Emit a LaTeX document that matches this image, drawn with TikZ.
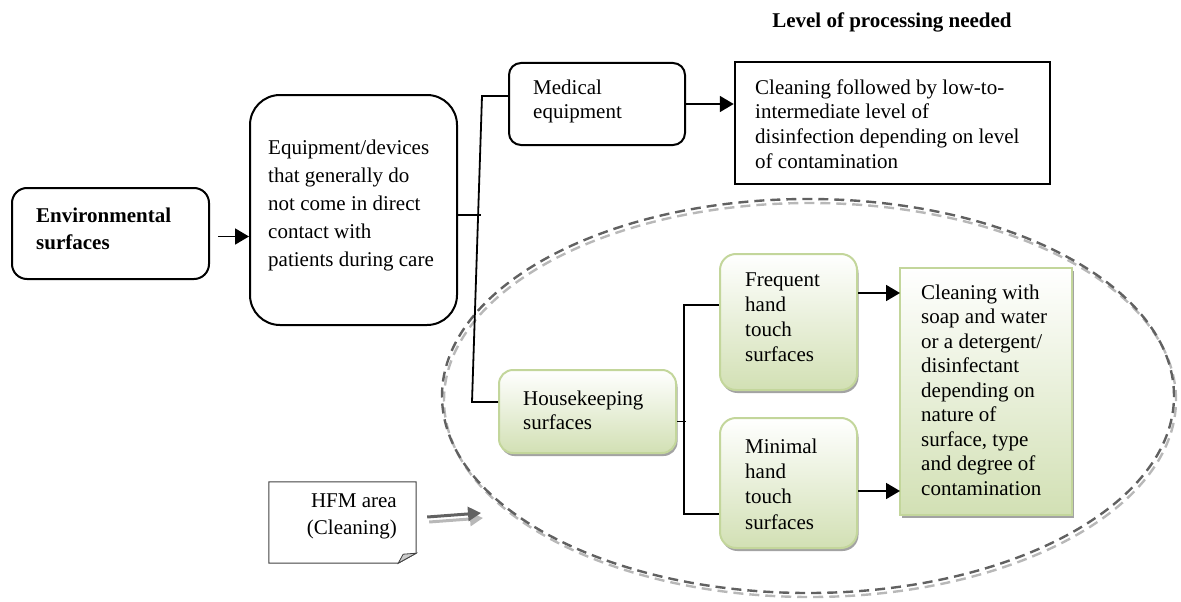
\documentclass[tikz,border=0pt]{standalone}
\usepackage{fontspec}
\setmainfont{Liberation Serif}
\usetikzlibrary{arrows.meta,shadows}
\definecolor{leafedge}{RGB}{195,214,155}
\definecolor{leaffill}{RGB}{210,224,180}
\begin{document}
\begin{tikzpicture}[x=1pt,y=-1pt,
  font=\fontsize{21}{25}\selectfont,
  box/.style={draw, line width=2pt, inner sep=0pt},
  leaf/.style={draw=leafedge, line width=2pt, top color=white, bottom color=leaffill,
    inner sep=0pt, drop shadow={shadow xshift=1.5pt, shadow yshift=-3pt, fill=black!45, opacity=0.8}},
  txt/.style={inner sep=0pt, align=left, anchor=west},
  link/.style={line width=1.8pt},
  arrow/.style={line width=1.8pt, -{Triangle[length=14pt,width=16pt]}},
  ring/.style={line width=2.4pt, dash pattern=on 10pt off 6pt},
  notearrow/.style={line width=3pt, -{Triangle[length=13pt,width=14pt]}},
]
\useasboundingbox (0,0) rectangle (1181,602);

% dashed zone around the housekeeping branch
\draw[ring, black!28] (810,400) ellipse [x radius=366pt, y radius=197pt];
\draw[ring, black!62] (808,396) ellipse [x radius=366pt, y radius=197pt];

% heading
\node[font=\fontsize{21}{25}\selectfont\bfseries] (heading) at (892,22) {Level of processing needed};

% black outlined boxes
\node[box, rounded corners=15pt, minimum width=197pt, minimum height=91pt] (env) at (110.5,233.5) {};
\node[txt, font=\fontsize{21}{27}\selectfont\bfseries] (envtext) at (36,228.5) {Environmental\\surfaces};

\node[box, rounded corners=30pt, minimum width=207pt, minimum height=230pt] (eq) at (353.5,210) {};
\node[txt, font=\fontsize{21}{28}\selectfont] (eqtext) at (268,205.5)
  {Equipment/devices\\that generally do\\not come in direct\\contact with\\patients during care};

\node[box, rounded corners=12pt, minimum width=176pt, minimum height=82pt] (med) at (597,104) {};
\node[txt, font=\fontsize{21}{23.5}\selectfont] (medtext) at (533,101.5) {Medical\\equipment};

\node[box, line width=2.5pt, minimum width=315pt, minimum height=122pt] (clean1) at (892.5,123) {};
\node[txt, font=\fontsize{21}{24.7}\selectfont] (clean1text) at (755,124)
  {Cleaning followed by low-to-\\intermediate level of\\disinfection depending on level\\of contamination};

% green boxes
\node[leaf, rounded corners=14pt, minimum width=177pt, minimum height=83pt] (hk) at (587.5,411.5) {};
\node[txt, font=\fontsize{21}{24}\selectfont] (hktext) at (523,410) {Housekeeping\\surfaces};

\node[leaf, rounded corners=16pt, minimum width=137pt, minimum height=136pt] (freq) at (788.5,322) {};
\node[txt] (freqtext) at (745,317.5) {Frequent\\hand\\touch\\surfaces};

\node[leaf, rounded corners=16pt, minimum width=137pt, minimum height=130pt] (minimal) at (788.5,483) {};
\node[txt, font=\fontsize{21}{25.3}\selectfont] (mintext) at (745,484) {Minimal\\hand\\touch\\surfaces};

\node[leaf, minimum width=172pt, minimum height=247pt] (clean2) at (986,391.5) {};
\node[txt, font=\fontsize{21}{24.5}\selectfont] (clean2text) at (921,390)
  {Cleaning with\\soap and water\\or a detergent/\\disinfectant\\depending on\\nature of\\surface, type\\and degree of\\contamination};

% note with folded corner
\node[minimum width=147pt, minimum height=81pt, inner sep=0pt] (hfm) at (342.5,522.5) {};
\draw[line width=1pt, black!75] (hfm.north west) -- (hfm.north east) -- ([yshift=10pt]hfm.south east)
  -- ([xshift=-18pt]hfm.south east) -- (hfm.south west) -- cycle;
\filldraw[fill=black!20, draw=black!75, line width=0.8pt] ([xshift=-18pt]hfm.south east)
  -- ([xshift=-13pt,yshift=9pt]hfm.south east) -- ([yshift=10pt]hfm.south east) -- cycle;
\node[inner sep=0pt, align=right, anchor=east, font=\fontsize{21}{27}\selectfont] (hfmtext) at (397,516.5)
  {HFM area\\(Cleaning)};

% connectors
\coordinate (envout) at ([yshift=-3pt]env.east);
\coordinate (trunktop) at (482,96);
\coordinate (trunkbot) at (472,402);
\coordinate (forktop) at (684,305);
\coordinate (forkbot) at (684,514);
\coordinate (ringin) at (481,513);
\coordinate (ringin2) at (483,518);

\draw[arrow, shorten <=8pt] (envout) -- (eq.west |- envout);
\draw[link] ([yshift=-5pt]eq.east) -- ++(23,0);
\draw[link] ([yshift=8pt]med.west) -- (trunktop) -- (trunkbot) -- ([yshift=9.5pt]hk.west);
\draw[arrow] (med.east) -- (clean1.west |- med.east);
\draw[link] ([yshift=-10pt]hk.east) -- ++(8.5,0);
\draw[link] ([yshift=17pt]freq.west) -- (forktop) -- (forkbot) -- ([yshift=-31pt]minimal.west);
\draw[arrow] ([yshift=29pt]freq.east) -- ++(42,0);
\draw[arrow] ([yshift=-8pt]minimal.east) -- ++(42,0);

\draw[notearrow, black!28] ([xshift=13pt,yshift=0.5pt]hfm.east) -- (ringin2);
\draw[notearrow, black!62] ([xshift=11pt,yshift=5.5pt]hfm.east) -- (ringin);
\end{tikzpicture}
\end{document}
